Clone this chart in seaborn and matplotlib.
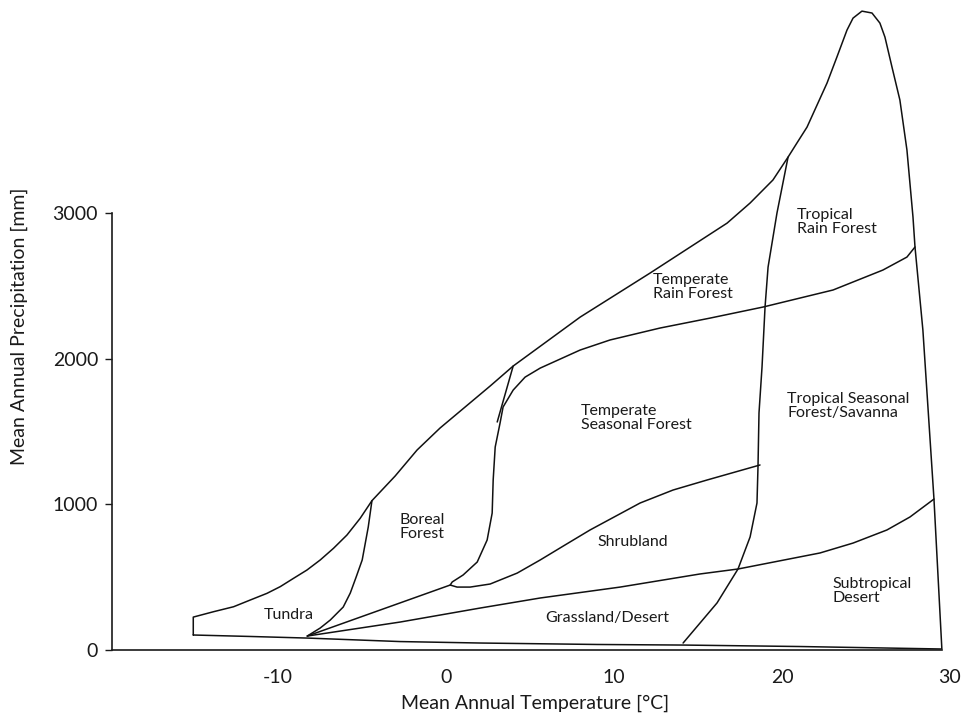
import matplotlib
matplotlib.use("Agg")
import matplotlib.pyplot as plt
import seaborn as sns

# ---- data (temperature °C, precipitation mm) ----
outer_T = [-15.06, -15.06, -13.85, -12.66, -11.67, -10.67, -9.88, -9.09, -8.29, -7.50, -6.71,
           -5.91, -5.12, -4.42, -3.04, -1.73, -0.36, 1.13, 2.62, 3.99, 7.98, 12.14,
           16.73, 18.10, 19.46, 20.36, 20.89, 21.49, 22.68, 23.27, 23.87, 24.23, 24.76, 25.36,
           25.83, 26.13, 26.55, 27.02, 27.44, 27.80, 27.92, 28.39, 29.05, 29.52,
           21.07, 14.17, 9.0, 2.02, -2.74, -8.27, -11.67, -15.06]
outer_P = [103, 226, 263, 297, 343, 389, 435, 492, 549, 618, 698,
           789, 904, 1025, 1194, 1373, 1524, 1668, 1812, 1949, 2285, 2587,
           2930, 3068, 3226, 3383, 3480, 3589, 3891, 4070, 4255, 4337, 4385, 4372,
           4303, 4207, 4001, 3775, 3432, 2972, 2766, 2196, 1036, 7,
           24, 34, 38, 48, 58, 82, 93, 103]

tundra_T = [-8.27, -7.50, -6.90, -6.13, -5.71, -5.36, -5.00, -4.64, -4.42]
tundra_P = [96, 151, 206, 295, 391, 501, 618, 844, 1025]

boreal_base_T = [-8.27, 0.24]
boreal_base_P = [96, 446]

grass_T = [-8.27, -2.74, 2.02, 5.60, 10.36, 15.12, 17.38, 22.26, 24.23, 26.25, 27.62, 29.05]
grass_P = [96, 192, 288, 357, 432, 522, 556, 666, 734, 824, 913, 1036]

seasonal_T = [27.92, 27.44, 26.01, 23.04, 18.87, 15.71, 12.74, 9.76, 7.98, 6.79, 5.60, 4.70,
              3.99, 3.39, 3.21, 2.92, 2.80, 2.74, 2.44, 1.85, 1.01, 0.36, 0.24, 0.65, 1.43,
              2.62, 4.23, 5.60, 7.08, 8.57, 11.55, 13.51, 15.54, 18.69]
seasonal_P = [2766, 2697, 2608, 2471, 2354, 2278, 2210, 2128, 2059, 1997, 1935, 1873,
              1784, 1668, 1558, 1393, 1167, 940, 755, 604, 515, 467, 446, 432, 432,
              453, 528, 618, 721, 824, 1009, 1098, 1167, 1270]

spur_T = [3.99, 3.04]
spur_P = [1949, 1565]

tropic_T = [20.36, 19.70, 19.17, 18.99, 18.81, 18.63, 18.57, 18.51, 18.10, 17.38, 16.13, 14.11]
tropic_P = [3383, 2999, 2628, 2354, 1942, 1627, 1256, 1009, 776, 556, 323, 48]

biome_labels = ["Tundra", "Boreal\nForest", "Temperate\nRain Forest", "Tropical\nRain Forest",
                "Temperate\nSeasonal Forest", "Tropical Seasonal\nForest/Savanna",
                "Shrubland", "Grassland/Desert", "Subtropical\nDesert"]
label_T = [-9.35, -2.80, 12.32, 20.89, 8.04, 20.30, 11.13, 9.58, 22.98]
label_P = [240, 844, 2491, 2937, 1592, 1675, 741, 220, 405]
label_ha = ["center", "left", "left", "left", "left", "left", "center", "center", "left"]

x_ticks = [-10, 0, 10, 20, 30]
y_ticks = [0, 1000, 2000, 3000]

# ---- plotting ----
sns.set_theme(style="white")
plt.rcParams["font.family"] = ["Lato", "DejaVu Sans"]

fig = plt.figure(figsize=(9.68, 7.22), dpi=100)
ax = fig.add_axes([0.1157, 0.0997, 0.8743, 0.898])

line_kw = dict(color="#111111", linewidth=1.1, sort=False, estimator=None, ax=ax)
for xs, ys in [(outer_T, outer_P), (tundra_T, tundra_P), (boreal_base_T, boreal_base_P),
               (grass_T, grass_P), (seasonal_T, seasonal_P), (spur_T, spur_P),
               (tropic_T, tropic_P)]:
    sns.lineplot(x=xs, y=ys, **line_kw)

for name, t, p, ha in zip(biome_labels, label_T, label_P, label_ha):
    ax.text(t, p, name, ha=ha, va="center", fontsize=11.5, color="#1a1a1a", linespacing=1.05)

ax.set_xlim(-19.9, 30.5)
ax.set_ylim(0, 4450)
ax.set_xticks(x_ticks)
ax.set_xticklabels([str(v) for v in x_ticks])
ax.set_yticks(y_ticks)
ax.set_yticklabels([str(v) for v in y_ticks])

for s in ["top", "right"]:
    ax.spines[s].set_visible(False)
for s in ["left", "bottom"]:
    ax.spines[s].set_color("#1a1a1a")
    ax.spines[s].set_linewidth(1.2)
ax.spines["left"].set_bounds(0, 3000)
ax.spines["bottom"].set_bounds(-19.9, 29.5)

ax.tick_params(axis="x", length=0, pad=14, labelsize=14, colors="#1a1a1a")
ax.tick_params(axis="y", length=5, width=1.0, direction="out", pad=5, labelsize=14,
               colors="#1a1a1a", left=True)

ax.set_xlabel("Mean Annual Temperature [°C]", fontsize=14, color="#1a1a1a", labelpad=6)
ax.set_ylabel("Mean Annual Precipitation [mm]", fontsize=14, color="#1a1a1a", labelpad=18)
ax.grid(False)

fig.savefig("out.png", dpi=100)
